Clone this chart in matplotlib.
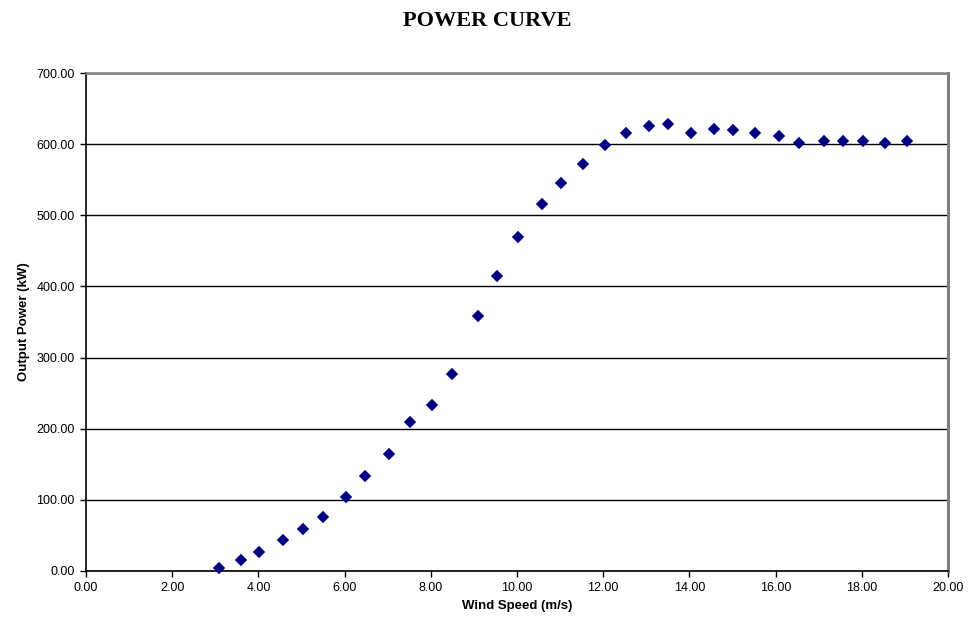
import matplotlib
matplotlib.use('Agg')
import matplotlib.pyplot as plt
from matplotlib.ticker import FormatStrFormatter

wind_speed = [3.08, 3.6, 4.02, 4.57, 5.03, 5.5, 6.03, 6.47, 7.04, 7.52, 8.02, 8.5,
              9.09, 9.53, 10.03, 10.58, 11.02, 11.53, 12.04, 12.53, 13.07, 13.5,
              14.04, 14.57, 15.01, 15.52, 16.08, 16.54, 17.12, 17.56, 18.03, 18.55, 19.06]
power_kw = [4, 15, 26, 43, 59, 76, 104, 133, 165, 210, 234, 277,
            359, 414, 469, 516, 545, 572, 599, 615, 626, 628,
            615, 622, 620, 616, 612, 602, 605, 605, 604, 601, 605]

x_ticks = [0, 2, 4, 6, 8, 10, 12, 14, 16, 18, 20]
y_ticks = [0, 100, 200, 300, 400, 500, 600, 700]

plt.rcParams['font.family'] = ['Liberation Sans', 'DejaVu Sans']

fig = plt.figure(figsize=(9.69, 6.22), dpi=100)
ax = fig.add_axes([0.0888, 0.082, 0.8895, 0.8006])

ax.set_xlim(0, 20)
ax.set_ylim(0, 700)
ax.set_xticks(x_ticks)
ax.set_yticks(y_ticks)
ax.xaxis.set_major_formatter(FormatStrFormatter('%.2f'))
ax.yaxis.set_major_formatter(FormatStrFormatter('%.2f'))

ax.grid(axis='y', color='black', linewidth=1.0)
ax.set_axisbelow(True)

ax.plot(wind_speed, power_kw, linestyle='none', marker='D', markersize=5.3,
        color='#000080', markeredgecolor='#000080', markeredgewidth=1.2,
        zorder=3, clip_on=False)

ax.spines['left'].set_color('black')
ax.spines['bottom'].set_color('black')
ax.spines['left'].set_linewidth(1.2)
ax.spines['bottom'].set_linewidth(1.2)
ax.spines['top'].set_color('#808080')
ax.spines['right'].set_color('#808080')
ax.spines['top'].set_linewidth(1.8)
ax.spines['right'].set_linewidth(2.2)

ax.tick_params(direction='out', length=4, width=1, labelsize=9, pad=4)

ax.set_xlabel('Wind Speed (m/s)', fontsize=9.5, fontweight='bold', labelpad=4)
ax.set_ylabel('Output Power (kW)', fontsize=9.5, fontweight='bold', labelpad=5)

fig.text(0.503, 0.983, 'POWER CURVE', ha='center', va='top',
         family='Liberation Serif', fontsize=16, fontweight='bold')

fig.savefig('out.png', dpi=100)
